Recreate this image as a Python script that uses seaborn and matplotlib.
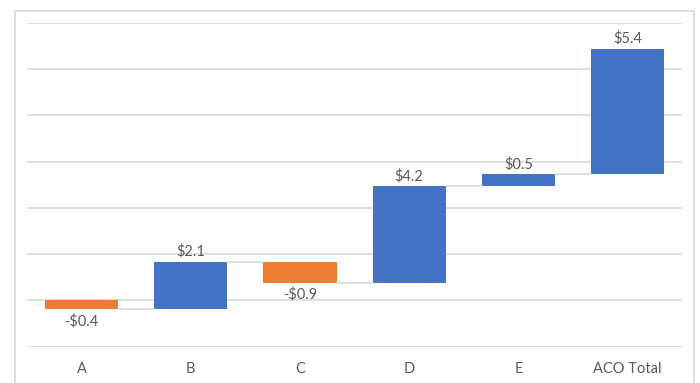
import numpy as np
import matplotlib
matplotlib.use("Agg")
import matplotlib.pyplot as plt
import seaborn as sns
from matplotlib.patches import Rectangle

# waterfall data ($)
categories = ["A", "B", "C", "D", "E", "ACO Total"]
changes = [-0.39, 2.06, -0.91, 4.19, 0.49]

BLUE = "#4472C4"
ORANGE = "#ED7D31"
GRID = "#D9D9D9"
TEXT = "#595959"

sns.set_theme(style="white")
plt.rcParams["font.family"] = ["Lato", "DejaVu Sans"]

total = sum(changes)
cum = np.cumsum([0] + changes)
bottoms = list(cum[:-1]) + [cum[-1]]   # total bar sits on the running total
heights = changes + [total]
labels = changes + [total]

fig = plt.figure(figsize=(7, 3.83), dpi=100)
ax = fig.add_axes([0.0386, 0.0948, 0.936, 0.846])

bar_w = 0.67
sns.barplot(x=categories, y=heights, bottom=bottoms, width=bar_w,
            color=BLUE, saturation=1, linewidth=0, ax=ax)
for patch, v in zip(ax.patches, heights):
    patch.set_facecolor(ORANGE if v < 0 else BLUE)

# connector lines between bars
levels = list(cum[1:])
for i, lvl in enumerate(levels):
    ax.plot([i + bar_w / 2, i + 1 - bar_w / 2], [lvl, lvl],
            color=GRID, lw=1.2, zorder=1)

# value labels
for i, (b, h, v) in enumerate(zip(bottoms, heights, labels)):
    txt = f"-${abs(v):.1f}" if v < 0 else f"${v:.1f}"
    if v < 0:
        ax.annotate(txt, (i, b + h), xytext=(0, -3), textcoords="offset points",
                    ha="center", va="top", fontsize=10.5, color=TEXT)
    else:
        ax.annotate(txt, (i, b + h), xytext=(0, 2), textcoords="offset points",
                    ha="center", va="bottom", fontsize=10.5, color=TEXT)

ax.set_ylim(-2, 12)
ax.set_xlim(-0.5, len(categories) - 0.5)
ax.set_yticks(np.arange(-2, 13, 2))
ax.set_yticklabels([])
ax.yaxis.grid(True, color=GRID, lw=1.2)
ax.set_axisbelow(True)
ax.tick_params(axis="x", length=0, pad=11, labelsize=10.5, labelcolor=TEXT)
ax.tick_params(axis="y", length=0)
ax.set_xlabel("")
ax.set_ylabel("")
sns.despine(ax=ax, left=True, bottom=True)

# chart border
fig.patches.append(Rectangle((15 / 700, -0.05), (694 - 15) / 700, 0.05 + (383 - 11) / 383,
                             transform=fig.transFigure, fill=False,
                             edgecolor=GRID, lw=1.2))

fig.savefig("out.png", dpi=100)
